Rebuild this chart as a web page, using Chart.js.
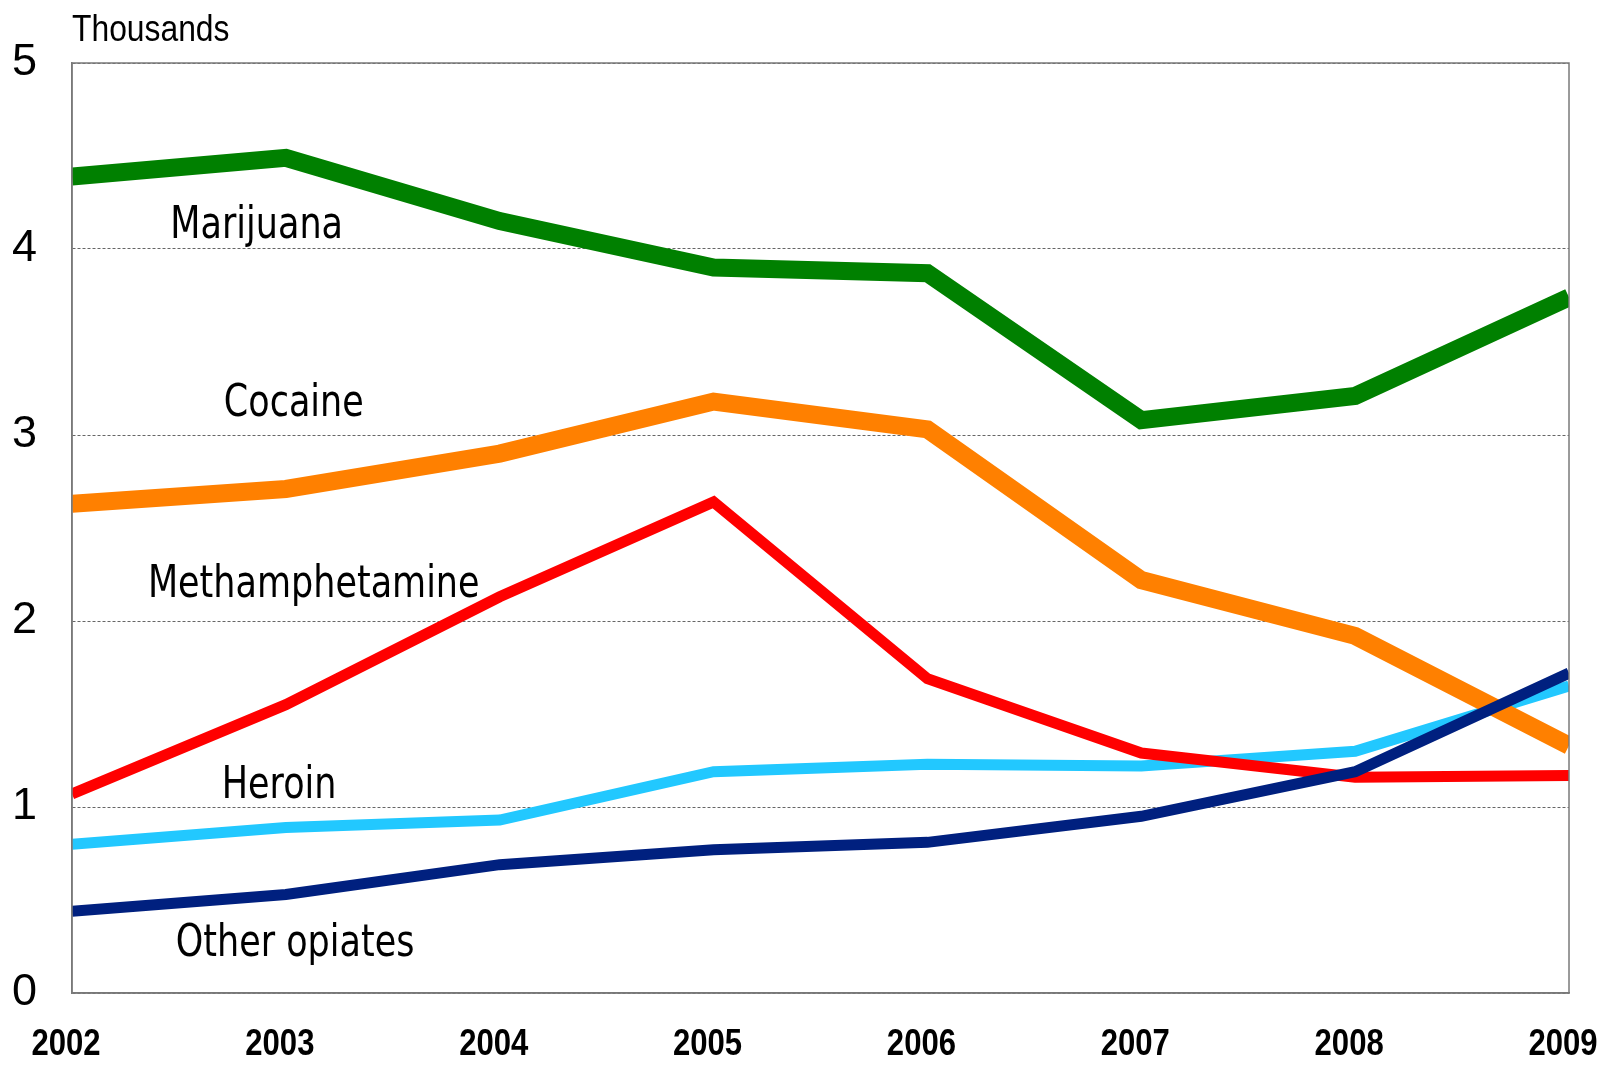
<!DOCTYPE html>
<html lang="en">
<head>
  <meta charset="UTF-8">
  <title>Drug trends 2002-2009</title>
  <script src="https://cdn.jsdelivr.net/npm/chart.js"></script>
  <style>
    html, body { margin: 0; padding: 0; background: #fff; }
    #chart { display: block; }
  </style>
</head>
<body>
  <canvas id="chart" width="1604" height="1067"></canvas>
  <script>
    // values in thousands
    const years = [2002, 2003, 2004, 2005, 2006, 2007, 2008, 2009];
    const marijuana = [4.39, 4.49, 4.15, 3.90, 3.87, 3.08, 3.21, 3.74];
    const cocaine = [2.63, 2.71, 2.90, 3.18, 3.03, 2.22, 1.92, 1.33];
    const meth = [1.07, 1.55, 2.13, 2.64, 1.69, 1.29, 1.16, 1.17];
    const heroin = [0.80, 0.89, 0.93, 1.19, 1.23, 1.22, 1.30, 1.65];
    const otherOpiates = [0.44, 0.53, 0.69, 0.77, 0.81, 0.95, 1.19, 1.72];
    const yTicks = [0, 1, 2, 3, 4, 5];

    // series names written inside the plot, anchored in data units (year, thousands)
    const labelNames = ['Marijuana', 'Cocaine', 'Methamphetamine', 'Heroin', 'Other opiates'];
    const labelYears = [2002.46, 2002.71, 2002.355, 2002.70, 2002.485];
    const labelValues = [4.06, 3.10, 2.13, 1.05, 0.2];

    const pts = arr => arr.map((v, i) => ({ x: years[i], y: v }));

    // in-plot series names, narrow year labels, plot frame and the "Thousands" caption
    const annotate = {
      id: 'annotate',
      afterDatasetsDraw(chart) {
        const { ctx, chartArea: a, scales } = chart;
        ctx.save();
        ctx.strokeStyle = '#7a7a7a';
        ctx.lineWidth = 1.5;
        ctx.strokeRect(a.left, a.top, a.right - a.left, a.bottom - a.top);

        ctx.fillStyle = '#000';
        ctx.textBaseline = 'alphabetic';
        ctx.textAlign = 'left';
        ctx.font = '44px "DejaVu Sans"';
        labelNames.forEach((name, i) => {
          const x = scales.x.getPixelForValue(labelYears[i]);
          const y = scales.y.getPixelForValue(labelValues[i]);
          ctx.save();
          ctx.translate(x, y);
          ctx.scale(0.795, 1);
          ctx.fillText(name, 0, 0);
          ctx.restore();
        });

        // year labels under the axis
        ctx.textAlign = 'center';
        ctx.font = 'bold 37px "Liberation Sans"';
        years.forEach(yr => {
          ctx.save();
          ctx.translate(scales.x.getPixelForValue(yr) - 6, a.bottom + 62);
          ctx.scale(0.84, 1);
          ctx.fillText(String(yr), 0, 0);
          ctx.restore();
        });

        ctx.textAlign = 'left';
        ctx.font = '37px "Liberation Sans"';
        ctx.save();
        ctx.translate(a.left, 41);
        ctx.scale(0.86, 1);
        ctx.fillText('Thousands', 0, 0);
        ctx.restore();
        ctx.restore();
      }
    };

    const ctx = document.getElementById('chart').getContext('2d');
    new Chart(ctx, {
      type: 'line',
      data: {
        datasets: [
          { label: 'Other opiates', data: pts(otherOpiates), borderColor: '#00207f', borderWidth: 11, order: 0 },
          { label: 'Heroin', data: pts(heroin), borderColor: '#22c8ff', borderWidth: 11, order: 3 },
          { label: 'Methamphetamine', data: pts(meth), borderColor: '#ff0000', borderWidth: 11, order: 2 },
          { label: 'Cocaine', data: pts(cocaine), borderColor: '#ff8000', borderWidth: 18, order: 1 },
          { label: 'Marijuana', data: pts(marijuana), borderColor: '#008000', borderWidth: 18, order: 4 }
        ]
      },
      options: {
        responsive: false,
        animation: false,
        layout: { padding: { left: 0, top: 63, right: 35, bottom: 0 } },
        elements: {
          point: { radius: 0 },
          line: { tension: 0, fill: false, borderCapStyle: 'butt', borderJoinStyle: 'miter' }
        },
        plugins: {
          legend: { display: false },
          tooltip: { enabled: false }
        },
        scales: {
          x: {
            type: 'linear',
            min: years[0],
            max: years[years.length - 1],
            afterFit: axis => { axis.height = 74; axis.paddingLeft = 0; axis.paddingRight = 0; },
            afterBuildTicks: axis => { axis.ticks = years.map(v => ({ value: v })); },
            grid: { display: false, drawTicks: false },
            border: { display: true, color: '#7a7a7a', width: 1.5 },
            ticks: { display: false }
          },
          y: {
            min: 0,
            max: 5,
            afterFit: axis => { axis.width = 72; axis.paddingTop = 0; axis.paddingBottom = 0; },
            afterBuildTicks: axis => { axis.ticks = yTicks.map(v => ({ value: v })); },
            grid: { color: '#666', lineWidth: 1, drawTicks: false },
            border: { display: true, color: '#7a7a7a', width: 1.5, dash: [3, 2] },
            ticks: {
              padding: 35,
              color: '#000',
              font: { family: '"Liberation Sans"', size: 45 }
            }
          }
        }
      },
      plugins: [annotate]
    });
  </script>
</body>
</html>
